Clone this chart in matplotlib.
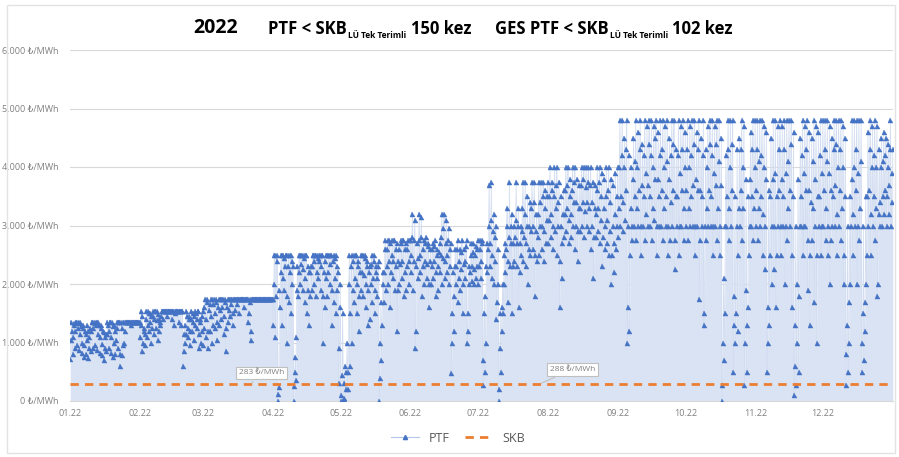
import numpy as np
import pandas as pd
import matplotlib
matplotlib.use("Agg")
import matplotlib.pyplot as plt
import matplotlib.dates as mdates
from matplotlib.lines import Line2D
from matplotlib.patches import Rectangle
from matplotlib.text import Annotation

plt.rcParams['font.family'] = ['Open Sans', 'DejaVu Sans']

# PTF, TL/MWh, four readings per day (03, 09, 15, 21 h)
jan = [720,1050,1350,1200, 800,1100,1340,1300, 900,1200,1350,1350, 950,1250,1350,1330, 880,1150,1350,1280, 820,1000,1300,1250, 760,950,1200,1150,
       800,1050,1300,1200, 730,900,1100,1250, 850,1200,1350,1350, 900,1250,1350,1340, 950,1300,1350,1350, 870,1150,1350,1300, 820,1100,1300,1250,
       780,980,1200,1180, 700,900,1100,1150, 850,1150,1350,1300, 900,1200,1350,1350, 820,1100,1350,1280, 760,1000,1300,1200, 800,1050,1350,1250,
       900,1350,1350,1350, 600,800,1350,1250, 780,950,1350,1350, 1000,1200,1350,1350, 1350,1350,1350,1350, 1350,1350,1350,1350, 1300,1350,1350,1350,
       1350,1350,1350,1350, 1350,1350,1350,1350, 1350,1350,1350,1350]
feb = [1100,1300,1530,1450, 850,1000,1250,1200, 950,1150,1400,1530, 1100,1300,1530,1500, 1200,1350,1500,1450, 1000,1250,1450,1530, 1150,1400,1530,1530,
       1250,1380,1530,1480, 1050,1200,1400,1350, 1300,1450,1530,1530, 1400,1530,1530,1530, 1530,1530,1530,1530, 1450,1530,1530,1530, 1530,1530,1530,1530,
       1400,1530,1530,1530, 1300,1500,1530,1530, 1530,1530,1530,1530, 1350,1530,1530,1530, 1300,1530,1530,1530, 600,850,1150,1300, 1000,1150,1530,1450,
       1100,1250,1450,1400, 950,1200,1400,1530, 1200,1350,1500,1450, 1050,1300,1530,1500, 1250,1400,1530,1530, 900,1150,1350,1400, 1000,1200,1450,1530]
mar = [950,1250,1600,1750, 1100,1400,1750,1700, 900,1200,1550,1650, 1200,1450,1750,1750, 1000,1300,1650,1750, 1250,1500,1750,1700, 1050,1350,1600,1750,
       1300,1550,1750,1750, 1400,1600,1750,1750, 1150,1450,1700,1750, 850,1250,1600,1750, 1350,1550,1750,1750, 1450,1650,1750,1750, 1300,1500,1750,1750,
       1550,1750,1750,1750, 1650,1750,1750,1750, 1500,1750,1750,1750, 1750,1750,1750,1750, 1600,1750,1750,1750, 1750,1750,1750,1750, 1350,1500,1700,1750,
       1050,1200,1750,1750, 1750,1750,1750,1750, 1750,1750,1750,1750, 1750,1750,1750,1750, 1750,1750,1750,1750, 1750,1750,1750,1750, 1750,1750,1750,1750,
       1750,1750,1750,1750, 1750,1750,1750,1750, 1750,1750,1750,1750]
apr = [1300,2000,2500,2500, 1100,1800,2500,2400, 0,120,240,1900, 1600,2200,2500,2500, 1300,2100,2500,2450, 1900,2300,2500,2500, 1000,1800,2300,2500,
       1700,2200,2500,2500, 1500,2000,2400,2300, 0,250,500,760, 360,1100,1900,2300, 1800,2200,2500,2500, 2000,2350,2500,2500, 1900,2250,2500,2450,
       1700,2100,2500,2500, 1500,1900,2300,2200, 1300,1800,2200,2300, 1900,2300,2500,2500, 2000,2400,2500,2500, 1800,2200,2500,2450, 2100,2400,2500,2500,
       1900,2300,2500,2500, 1000,1800,2200,2400, 1600,2100,2500,2500, 1800,2200,2500,2500, 2000,2350,2500,2500, 1300,1900,2400,2500, 1700,2100,2450,2500,
       1500,1900,2300,2200, 300,900,1600,2000]
may = [0,100,450,1500, 0,50,300,600, 0,200,500,1000, 200,500,2000,2500, 600,1500,2300,2500, 1000,1900,2400,2500, 1700,2100,2500,2500,
       1500,2000,2400,2300, 1200,1800,2200,2500, 1900,2200,2500,2500, 1800,2150,2450,2500, 1600,2000,2300,2400, 1300,1900,2200,2300, 1400,2000,2350,2500,
       1700,2100,2400,2500, 1500,1900,2200,2300, 1800,2100,2300,2400, 0,400,1000,1700, 700,1300,2000,2200, 1700,2200,2600,2750, 1900,2300,2600,2750,
       2000,2400,2750,2700, 1600,2200,2500,2750, 2100,2400,2750,2750, 1900,2300,2600,2700, 1200,1900,2400,2600, 2000,2350,2700,2750, 2100,2400,2750,2750,
       1800,2200,2600,2700, 1900,2300,2600,2750, 2000,2400,2750,2750]
jun = [2200,2500,2800,3200, 1900,2400,2750,3100, 900,1200,2300,2700, 2100,2450,2750,3200, 2200,2500,2800,3150, 1800,2300,2600,2750, 2000,2400,2700,2800,
       2100,2350,2650,2700, 1600,2000,2400,2600, 2000,2300,2600,2700, 2100,2400,2650,2750, 1800,2200,2500,2600, 1900,2300,2550,2700, 2200,2500,2800,3200,
       2000,2450,2950,3200, 2100,2400,2700,3100, 2200,2500,2750,2950, 2000,2300,2600,2700, 480,1000,1500,2200, 1200,1800,2300,2600, 2000,2300,2600,2750,
       1700,2100,2400,2600, 1900,2250,2550,2750, 1500,2000,2350,2600, 2100,2400,2650,2750, 1000,1200,1500,2300, 2000,2200,2500,2700, 2050,2300,2550,2700,
       2000,2250,2500,2650, 2100,2300,2600,2750]
jul = [2000,2300,2600,2750, 2100,2400,2700,2750, 280,700,1500,1800, 500,1000,2300,2700, 2200,2600,3000,3700, 2300,2700,3100,3750, 2100,2500,2900,3200,
       2000,2400,2800,3000, 1400,1700,2000,2600, 0,200,900,1500, 500,1200,1600,2000, 1500,2000,2500,2700, 2200,2600,3000,3300, 1700,2400,2800,3750,
       2300,2700,3000,3200, 1500,2300,2700,3000, 2400,2800,3100,3750, 2300,2700,3000,3300, 1600,2200,2700,3000, 2500,2900,3300,3750, 2400,2800,3200,3750,
       2300,2700,3000,3500, 2000,2600,3000,3400, 2500,2900,3300,3750, 2600,3000,3400,3750, 1800,2500,2900,3200, 2400,2800,3200,3750, 2500,3000,3400,3750,
       2600,3000,3500,3750, 2400,2900,3300,3600, 2700,3100,3500,3750]
aug = [2700,3100,3500,4000, 2800,3200,3600,3750, 2600,3000,3500,4000, 2900,3300,3700,4000, 2500,3000,3400,3750, 1600,2400,3000,3500, 2100,2700,3200,3600,
       2800,3200,3600,4000, 2900,3300,3700,4000, 2700,3100,3500,3800, 2800,3200,3600,4000, 3000,3400,3750,4000, 2600,3000,3400,3800, 2400,2900,3300,3700,
       2900,3300,3700,4000, 3000,3400,3800,4000, 2800,3250,3650,4000, 3000,3400,3750,4000, 2900,3300,3700,4000, 2600,3000,3400,3750, 2100,2800,3300,3700,
       2800,3200,3600,4000, 2900,3300,3750,4000, 2700,3100,3500,3900, 2300,2800,3300,3800, 2600,3000,3500,4000, 2700,3100,3600,4000, 2500,2900,3400,3800,
       2000,2500,3000,3700, 2200,2700,3200,3900, 2600,3000,3500,4000]
sep = [2800,3300,4000,4800, 3000,3500,4200,4800, 2900,3400,4000,4500, 3100,3600,4300,4800, 1000,1600,3000,4200, 1200,2500,3300,4000, 2750,3000,3800,4500,
       3000,3500,4100,4800, 2750,3300,4000,4600, 3000,3600,4300,4800, 2500,3000,3700,4400, 3000,3500,4200,4800, 2750,3200,3900,4700, 3000,3700,4400,4800,
       3000,3500,4200,4800, 2750,3300,4000,4700, 3100,3800,4500,4800, 2500,3000,3800,4600, 3000,3500,4200,4800, 3000,3600,4300,4800, 2750,3300,4000,4700,
       3000,3500,4100,4800, 2500,3000,3800,4500, 2750,3400,4200,4800, 3000,3600,4400,4800, 2250,2750,3500,4300, 3000,3500,4200,4800, 2500,3000,3900,4700,
       3000,3600,4300,4800, 2750,3300,4000,4600]
oct = [3000,3600,4300,4800, 2750,3300,4000,4700, 3000,3500,4200,4800, 3000,3700,4400,4800, 2500,3000,3800,4600, 3000,3600,4300,4800, 1750,2750,3600,4500,
       3000,3500,4200,4800, 1300,1500,3000,4300, 2750,3300,4000,4700, 3000,3600,4400,4800, 3000,3500,4200,4800, 2500,3000,3900,4700, 3000,3700,4400,4800,
       2750,3300,4100,4800, 2500,3000,3700,4500, 0,280,1000,2100, 700,1500,3000,4200, 3000,3500,4300,4800, 2750,3300,4000,4800, 3000,3600,4400,4800,
       500,1300,1800,3500, 1000,1500,3000,4300, 1200,2500,3300,4500, 3000,3600,4300,4800, 2750,3300,4000,4700, 280,1000,1900,3800, 500,1300,1600,3500,
       2500,3000,3800,4600, 3000,3500,4300,4800, 2750,3300,4000,4800]
nov = [3000,3600,4300,4800, 2750,3300,4100,4800, 3000,3500,4200,4800, 2500,3200,4000,4700, 2250,3000,3800,4600, 500,1000,1600,3600, 1300,2500,3500,4500,
       2000,3000,3800,4800, 2250,3000,3900,4800, 1600,2500,3500,4700, 3000,3600,4300,4800, 2500,3000,3800,4700, 3000,3500,4300,4800, 2000,3000,3900,4800,
       2750,3300,4100,4800, 3000,3600,4400,4800, 1600,2500,3500,4600, 100,600,1300,3000, 280,1000,2000,3800, 500,1800,3000,4500, 3000,3500,4200,4800,
       2500,3000,3900,4700, 3000,3600,4300,4800, 1900,2750,3600,4600, 1300,2500,3400,4500, 2750,3300,4100,4800, 1700,3000,3800,4700, 1000,2500,3500,4600,
       3000,3500,4200,4800, 2500,3000,3900,4800]
dec = [3000,3600,4300,4800, 2750,3300,4100,4800, 2500,3000,3900,4700, 2000,2750,3600,4500, 3000,3500,4300,4800, 3000,3700,4400,4800, 2500,3200,4000,4800,
       3000,3600,4300,4800, 2750,3300,4000,4700, 2000,2500,3500,4500, 280,800,1300,3000, 500,1000,1700,3500, 2000,3000,3800,4800, 2500,3200,4000,4800,
       3000,3600,4300,4800, 2000,3000,3900,4800, 2750,3300,4100,4800, 500,1000,1500,3000, 700,1200,1700,3500, 2000,2500,3500,4600, 3000,3600,4300,4800,
       2500,3200,4000,4700, 3000,3500,4200,4800, 2750,3300,4000,4700, 1800,2000,3200,4300, 3000,3400,4000,4500, 3000,3500,4100,4600, 3200,3600,4200,4500,
       3000,3500,4000,4400, 3200,3700,4300,4800, 3000,3400,3900,4300]

# SKB (LÜ tek terimli), monthly
skb_months = ['2022-01', '2022-02', '2022-03', '2022-04', '2022-05', '2022-06',
              '2022-07', '2022-08', '2022-09', '2022-10', '2022-11', '2022-12', '2023-01']
skb = [283, 283, 283, 283, 283, 283, 288, 288, 288, 288, 288, 288, 288]

ptf = np.array(jan + feb + mar + apr + may + jun + jul + aug + sep + oct + nov + dec, dtype=float)
t = pd.date_range('2022-01-01 03:00', periods=len(ptf), freq='6h')
skb_t = pd.to_datetime(skb_months)

fig = plt.figure(figsize=(8.99, 4.57), dpi=100)
ax = fig.add_axes([70/899, 1-401/457, 823/899, 351/457])

ax.fill_between(t, ptf, 0, color='#dae3f3', lw=0, zorder=1)
ax.plot(t, ptf, color='#d2ddf1', lw=0.5, marker='^', ms=3.6,
        mfc='#4472c4', mec='#4472c4', mew=0.3, zorder=3)
ax.plot(skb_t, skb, color='#ed7d31', lw=2, ls=(0, (3, 2.2)), drawstyle='steps-post', zorder=4)

ax.set_xlim(pd.Timestamp('2022-01-01'), pd.Timestamp('2023-01-01'))
ax.set_ylim(0, 6000)
ax.set_yticks(range(0, 6001, 1000))
ax.yaxis.set_major_formatter(lambda v, p: f"{v:,.0f}".replace(',', '.') + " ₺/MWh")
ax.set_xticks(pd.date_range('2022-01-01', periods=12, freq='MS'))
ax.xaxis.set_major_formatter(mdates.DateFormatter('%m.%y'))
ax.tick_params(axis='both', length=0, labelsize=6.5, labelcolor='#808080')
ax.tick_params(axis='y', pad=8)
ax.tick_params(axis='x', pad=6)
ax.grid(axis='y', color='#d9d9d9', lw=0.8, zorder=0)
ax.set_axisbelow(True)
for s in ['top', 'right', 'left']:
    ax.spines[s].set_visible(False)
ax.spines['bottom'].set_color('#d9d9d9')

box = dict(boxstyle='square,pad=0.35', fc='white', ec='#bfbfbf', lw=0.8)
ax.annotate('283 ₺/MWh', xy=(pd.Timestamp('2022-03-22'), 283), xytext=(pd.Timestamp('2022-03-27'), 480),
            fontsize=6, color='#808080', ha='center', va='center', bbox=box,
            arrowprops=dict(arrowstyle='-', color='#bfbfbf', lw=0.8), zorder=6)
ax.annotate('288 ₺/MWh', xy=(pd.Timestamp('2022-07-28'), 288), xytext=(pd.Timestamp('2022-08-12'), 540),
            fontsize=6, color='#808080', ha='center', va='center', bbox=box,
            arrowprops=dict(arrowstyle='-', color='#bfbfbf', lw=0.8), zorder=6)


def title_group(x_px, main, count):
    # main text, subscript right after it, then the count on the main baseline
    m = fig.text(x_px/899, 1-34/457, main, fontsize=12, fontweight='bold', va='baseline')
    sub = fig.add_artist(Annotation('LÜ Tek Terimli', xy=(1, 0), xycoords=m, xytext=(1, 0),
                                    textcoords='offset points', fontsize=6, fontweight='bold',
                                    ha='left', va='baseline'))
    fig.add_artist(Annotation(count, xy=(1, 0), xycoords=(sub, m), xytext=(3, 0),
                              textcoords='offset points', fontsize=12, fontweight='bold',
                              ha='left', va='bottom'))


fig.text(193/899, 1-33/457, '2022', fontsize=14, fontweight='bold', va='baseline')
title_group(268, 'PTF < SKB', '150 kez')
title_group(495, 'GES PTF < SKB', '102 kez')

handles = [Line2D([], [], color='#b4c7e7', lw=0.8, marker='^', ms=3, mfc='#4472c4', mec='#4472c4'),
           Line2D([], [], color='#ed7d31', lw=2, ls=(0, (3, 2.2)))]
fig.legend(handles, ['PTF', 'SKB'], loc='center', bbox_to_anchor=(458/899, 1-438/457), ncol=2,
           frameon=False, fontsize=9, labelcolor='#595959', handlelength=2.2, columnspacing=1.2)

fig.patches.append(Rectangle((7/899, 1-453/457), 888/899, 448/457, transform=fig.transFigure,
                             fill=False, ec='#e3e3e3', lw=1))

fig.savefig('out.png', dpi=100)
